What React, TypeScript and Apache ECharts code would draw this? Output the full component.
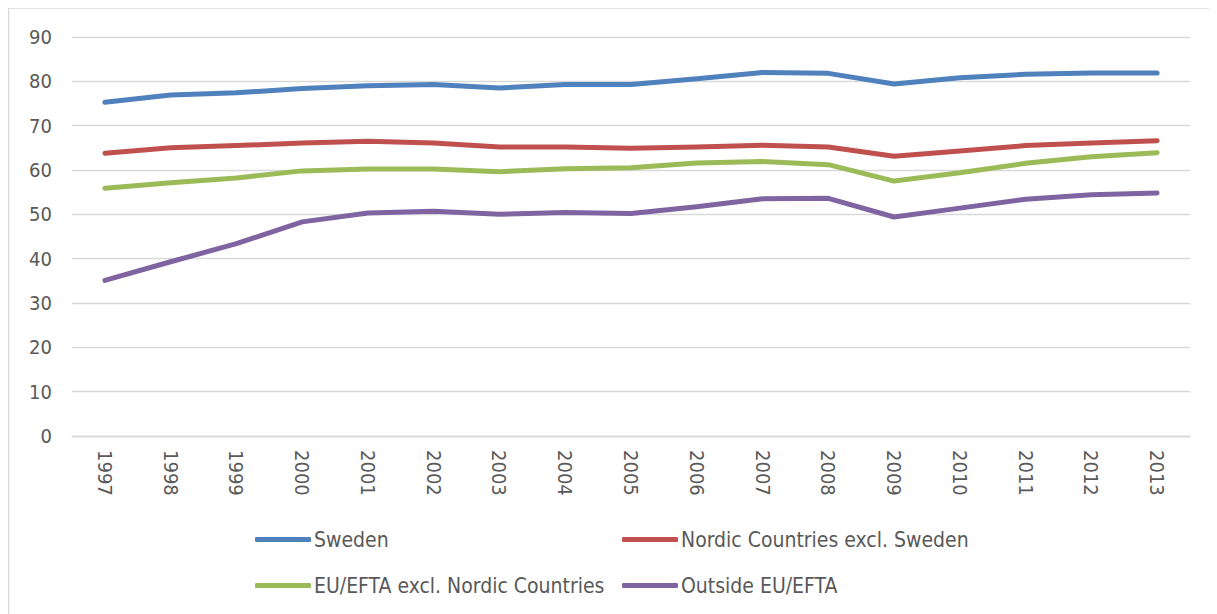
import React, { useEffect, useRef } from "react";
import * as echarts from "echarts";

const years = ["1997","1998","1999","2000","2001","2002","2003","2004","2005","2006","2007","2008","2009","2010","2011","2012","2013"];
const sweden = [75.3, 76.9, 77.4, 78.4, 79.0, 79.3, 78.5, 79.3, 79.3, 80.6, 82.0, 81.8, 79.4, 80.8, 81.6, 81.9, 81.9];
const nordic = [63.8, 65.0, 65.5, 66.1, 66.5, 66.1, 65.2, 65.2, 64.9, 65.2, 65.6, 65.2, 63.1, 64.3, 65.5, 66.1, 66.6];
const euEfta = [55.9, 57.1, 58.2, 59.8, 60.2, 60.2, 59.6, 60.3, 60.5, 61.6, 61.9, 61.2, 57.5, 59.4, 61.5, 63.0, 63.9];
const outside = [35.1, 39.3, 43.4, 48.3, 50.3, 50.7, 50.0, 50.4, 50.2, 51.7, 53.5, 53.6, 49.4, 51.4, 53.4, 54.4, 54.8];
const seriesNames = ["Sweden", "Nordic Countries excl. Sweden", "EU/EFTA excl. Nordic Countries", "Outside EU/EFTA"];
const colors = ["#4f81bd", "#c0504d", "#9bbb59", "#8064a2"];

const FONT = "'DejaVu Sans Condensed', 'Noto Sans', sans-serif";

export default function App() {
  const ref = useRef<HTMLDivElement>(null);
  useEffect(() => {
    if (!ref.current) return;
    const chart = echarts.init(ref.current, null, { renderer: "svg" });
    const values = [sweden, nordic, euEfta, outside];
    const legendPos = [
      { left: 247, top: 521 },
      { left: 614, top: 521 },
      { left: 247, top: 567 },
      { left: 614, top: 567 },
    ];
    chart.setOption({
      animation: false,
      backgroundColor: "#ffffff",
      graphic: [
        {
          type: "rect",
          shape: { x: 0.5, y: 0, width: 1400, height: 800 },
          style: { fill: "none", stroke: "#d9d9d9", lineWidth: 1.5 },
          silent: true,
        },
      ],
      grid: { left: 64, right: 27, top: 29, bottom: 178, containLabel: false },
      legend: seriesNames.map((n, i) => ({
        data: [n],
        left: legendPos[i].left,
        top: legendPos[i].top,
        icon: "roundRect",
        itemWidth: 56,
        itemHeight: 5,
        itemGap: 0,
        textStyle: { color: "#595959", fontSize: 21, fontFamily: FONT, padding: [0, 0, 0, -2] },
        padding: 0,
      })),
      xAxis: {
        type: "category",
        data: years,
        boundaryGap: true,
        axisLine: { show: true, lineStyle: { color: "#d9d9d9", width: 1.3 } },
        axisTick: { show: false },
        axisLabel: { rotate: -90, color: "#595959", fontSize: 20, fontFamily: FONT, margin: 14 },
      },
      yAxis: {
        type: "value",
        min: 0,
        max: 90,
        interval: 10,
        axisLine: { show: false },
        axisTick: { show: false },
        splitLine: { lineStyle: { color: "#d9d9d9", width: 1.3 } },
        axisLabel: { color: "#595959", fontSize: 20, fontFamily: FONT, margin: 20 },
      },
      series: seriesNames.map((n, i) => ({
        name: n,
        type: "line",
        data: values[i],
        showSymbol: false,
        symbol: "none",
        color: colors[i],
        lineStyle: { width: 5, color: colors[i], cap: "round", join: "round" },
      })),
    });
    return () => chart.dispose();
  }, []);
  return <div ref={ref} style={{ width: 1209, height: 606 }} />;
}
